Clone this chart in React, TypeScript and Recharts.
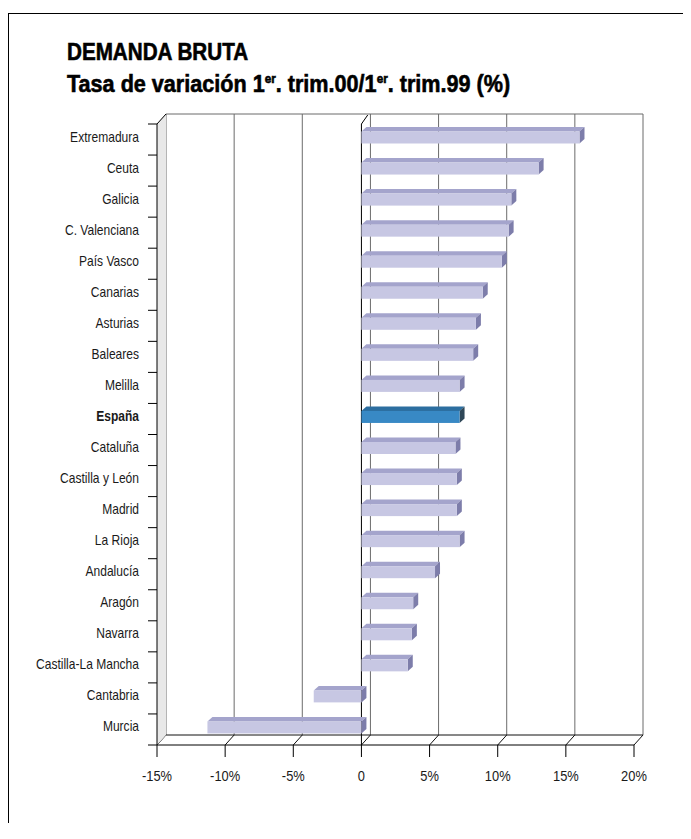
import { BarChart, Bar, XAxis, YAxis, CartesianGrid, ReferenceArea } from "recharts";

// Comunidades, de mayor a menor tasa (orden del gráfico)
const regiones = [
  "Extremadura",
  "Ceuta",
  "Galicia",
  "C. Valenciana",
  "País Vasco",
  "Canarias",
  "Asturias",
  "Baleares",
  "Melilla",
  "España",
  "Cataluña",
  "Castilla y León",
  "Madrid",
  "La Rioja",
  "Andalucía",
  "Aragón",
  "Navarra",
  "Castilla-La Mancha",
  "Cantabria",
  "Murcia",
];

// Tasa de variación 1er trim.00 / 1er trim.99 (%)
const tasas = [16.0, 13.0, 11.0, 10.8, 10.3, 8.9, 8.4, 8.2, 7.2, 7.2, 6.9, 7.0, 7.0, 7.2, 5.4, 3.8, 3.7, 3.4, -3.5, -11.3];

const ticksX = [-15, -10, -5, 0, 5, 10, 15, 20];
const destacado = "España";

const data = regiones.map((region, i) => ({ region, tasa: tasas[i] }));

// no hay Helvetica Condensed: Liberation Sans estrechada con scaleX
const FONT = "'Liberation Sans', Arial, sans-serif";

// profundidad de la caja 3D y de las barras
const PX = 9;
const PY = 10;
const BX = 5;
const BY = 4.5;

function Barra3D(props: any) {
  const { x, y, width, height, payload } = props;
  const izq = Math.min(x, x + width);
  const w = Math.abs(width);
  const top = y - 2.5;
  const h = height;
  const esp = payload && payload.region === destacado;
  const frente = esp ? "#3889c5" : "#c7c7e3";
  const arriba = esp ? "#2c6ea0" : "#a4a4cc";
  const lado = esp ? "#2e4758" : "#7d7daa";
  return (
    <g>
      <polygon
        points={`${izq},${top} ${izq + BX},${top - BY} ${izq + w + BX},${top - BY} ${izq + w},${top}`}
        fill={arriba}
      />
      <polygon
        points={`${izq + w},${top} ${izq + w + BX},${top - BY} ${izq + w + BX},${top + h - BY} ${izq + w},${top + h}`}
        fill={lado}
      />
      <rect x={izq} y={top} width={w} height={h} fill={frente} />
    </g>
  );
}

// líneas del fondo + diagonales del suelo
function LineaGrid(props: any) {
  const { x1, y1, y2, index } = props;
  const cero = ticksX[index] === 0;
  return (
    <g>
      <line x1={x1 + PX} y1={y1 - PY} x2={x1 + PX} y2={y2 - PY} stroke="#6b6b6b" strokeWidth={1} />
      <line x1={x1} y1={y2} x2={x1 + PX} y2={y2 - PY} stroke="#111" strokeWidth={1} />
      {cero && (
        <>
          <line x1={x1} y1={y1} x2={x1} y2={y2} stroke="#000" strokeWidth={1} />
          <line x1={x1} y1={y1} x2={x1 + PX * 0.7} y2={y1 - PY * 0.9} stroke="#000" strokeWidth={1} />
        </>
      )}
    </g>
  );
}

// pared izquierda, borde superior y suelo trasero
function Caja(props: any) {
  const { x, y, width, height } = props;
  const n = regiones.length;
  const marcas = [];
  for (let i = 0; i <= n; i++) {
    const yy = y + (i * height) / n;
    marcas.push(<line key={i} x1={x - 9} y1={yy} x2={x} y2={yy} stroke="#000" />);
  }
  return (
    <g>
      <polygon
        points={`${x},${y} ${x + PX},${y - PY} ${x + PX},${y + height - PY} ${x},${y + height}`}
        fill="#e8e8e8"
      />
      <line x1={x + PX} y1={y - PY} x2={x + width + PX} y2={y - PY} stroke="#6b6b6b" />
      <line x1={x + PX} y1={y + height - PY} x2={x + width + PX} y2={y + height - PY} stroke="#111" />
      <line x1={x} y1={y} x2={x} y2={y + height} stroke="#000" />
      <line x1={x} y1={y} x2={x + PX} y2={y - PY} stroke="#000" />
      {marcas}
    </g>
  );
}

function TickY(props: any) {
  const { x, y, payload } = props;
  const esp = payload.value === destacado;
  return (
    <text
      transform={`translate(${x},${y + 2}) scale(0.86,1)`}
      textAnchor="end"
      fontFamily={FONT}
      fontSize={14}
      fontWeight={esp ? 700 : 400}
      fill="#1a1a1a"
    >
      {payload.value}
    </text>
  );
}

function TickX(props: any) {
  const { x, y, payload } = props;
  return (
    <text
      transform={`translate(${x},${y + 22}) scale(0.92,1)`}
      textAnchor="middle"
      fontFamily={FONT}
      fontSize={14}
      fill="#1a1a1a"
    >
      {payload.value === 0 ? "0" : `${payload.value}%`}
    </text>
  );
}

const tituloBase = {
  position: "absolute" as const,
  left: 59,
  fontSize: 24,
  fontWeight: 700,
  lineHeight: "31.7px",
  color: "#000",
  whiteSpace: "nowrap" as const,
  transformOrigin: "0 0",
  WebkitTextStroke: "0.6px #000",
};

export default function App() {
  const sup = { fontSize: 13, lineHeight: 0 };
  return (
    <div style={{ position: "relative", width: 675, height: 815, fontFamily: FONT }}>
      <div
        style={{
          position: "absolute",
          left: 0,
          top: 5,
          width: 683,
          height: 825,
          boxSizing: "border-box",
          borderLeft: "1px solid #000",
          borderTop: "1px solid #000",
        }}
      />
      <div style={{ ...tituloBase, top: 28, transform: "scaleX(0.86)" }}>DEMANDA BRUTA</div>
      <div style={{ ...tituloBase, top: 59.7, transform: "scaleX(0.9)" }}>
        Tasa de variación 1<sup style={sup}>er</sup>. trim.00/1<sup style={sup}>er</sup>. trim.99 (%)
      </div>
      <div style={{ position: "absolute", left: 0, top: 0 }}>
        <BarChart
          width={675}
          height={820}
          data={data}
          layout="vertical"
          margin={{ top: 116, right: 49, left: 9, bottom: 43 }}
          barSize={12}
        >
          <CartesianGrid horizontal={false} vertical={LineaGrid} />
          <ReferenceArea x1={-15} x2={20} shape={Caja} />
          <XAxis
            type="number"
            domain={[-15, 20]}
            ticks={ticksX}
            interval={0}
            height={40}
            axisLine={{ stroke: "#000" }}
            tickLine={{ stroke: "#000" }}
            tickSize={12}
            tick={TickX}
          />
          <YAxis
            type="category"
            dataKey="region"
            width={140}
            interval={0}
            axisLine={false}
            tickLine={false}
            tickSize={0}
            tickMargin={18}
            tick={TickY}
          />
          <Bar dataKey="tasa" shape={Barra3D} isAnimationActive={false} />
        </BarChart>
      </div>
    </div>
  );
}
